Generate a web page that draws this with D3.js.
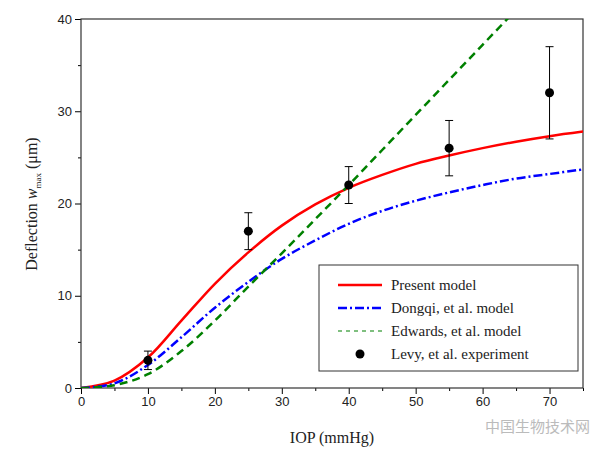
<!DOCTYPE html>
<html><head><meta charset="utf-8">
<script src="https://cdn.jsdelivr.net/npm/d3@7"></script>
<style>body{margin:0;background:#fff}text{font-family:"Liberation Serif",serif}</style>
</head><body><svg id="c" width="600" height="453"></svg>
<script>
var iop = [0, 5, 10, 15, 20, 25, 30, 35, 40, 45, 50, 55, 60, 65, 70, 75];
var present = [0, 0.8, 3.3, 7.3, 11.3, 14.7, 17.6, 19.9, 21.7, 23.1, 24.3, 25.2, 26, 26.7, 27.3, 27.8];
var dongqi = [0, 0.5, 2.5, 5.5, 8.7, 11.5, 14, 16, 17.8, 19.2, 20.3, 21.2, 22, 22.7, 23.2, 23.7];
var edwardsX = [0, 5, 10, 15, 20, 25, 30, 35, 40, 45, 50, 55, 60, 65];
var edwards = [0, 0.3, 1.5, 4, 7.3, 11, 14.6, 18.3, 22, 25.8, 29.6, 33.4, 37.2, 41];
var levyX = [10, 25, 40, 55, 70];
var levy = [3, 17, 22, 26, 32];
var levyErr = [1, 2, 2, 3, 5];

var svg = d3.select("#c");
var x = d3.scaleLinear().domain([0, 75]).range([81, 583]);
var y = d3.scaleLinear().domain([0, 40]).range([388, 19]);

svg.append("clipPath").attr("id", "clip").append("rect")
    .attr("x", 81).attr("y", 19).attr("width", 502).attr("height", 369);

svg.append("g").attr("transform", "translate(0,388)")
    .call(d3.axisBottom(x).tickValues(d3.range(0, 80, 10)).tickSize(6).tickSizeOuter(0));
svg.append("g").attr("transform", "translate(0,388)")
    .call(d3.axisBottom(x).tickValues(d3.range(5, 80, 10)).tickSize(3).tickFormat(""));
svg.append("g").attr("transform", "translate(81,0)")
    .call(d3.axisLeft(y).tickValues(d3.range(0, 50, 10)).tickSize(6).tickSizeOuter(0));
svg.append("g").attr("transform", "translate(81,0)")
    .call(d3.axisLeft(y).tickValues(d3.range(5, 40, 10)).tickSize(3).tickFormat(""));
svg.selectAll(".domain").remove();
svg.selectAll(".tick text").style("font-family", "Liberation Sans, Arial").style("font-size", "13px").attr("fill", "#222");
svg.append("rect").attr("x", 81).attr("y", 19).attr("width", 502).attr("height", 369)
    .attr("fill", "none").attr("stroke", "#333").attr("stroke-width", 1.2);

var line = d3.line().curve(d3.curveCatmullRom);
var plot = svg.append("g").attr("clip-path", "url(#clip)");
plot.append("path").attr("d", line(iop.map(function (d, i) { return [x(d), y(present[i])]; })))
    .attr("fill", "none").attr("stroke", "#ff0000").attr("stroke-width", 2.5);
plot.append("path").attr("d", line(iop.map(function (d, i) { return [x(d), y(dongqi[i])]; })))
    .attr("fill", "none").attr("stroke", "#0000ff").attr("stroke-width", 2.5).attr("stroke-dasharray", "9,3,2,3");
plot.append("path").attr("d", line(edwardsX.map(function (d, i) { return [x(d), y(edwards[i])]; })))
    .attr("fill", "none").attr("stroke", "#008000").attr("stroke-width", 2.5).attr("stroke-dasharray", "8,5");

levyX.forEach(function (d, i) {
    var g = svg.append("g").attr("stroke", "#000").attr("stroke-width", 1);
    g.append("line").attr("x1", x(d)).attr("x2", x(d)).attr("y1", y(levy[i] - levyErr[i])).attr("y2", y(levy[i] + levyErr[i]));
    [-1, 1].forEach(function (s) {
        g.append("line").attr("x1", x(d) - 4).attr("x2", x(d) + 4)
            .attr("y1", y(levy[i] + s * levyErr[i])).attr("y2", y(levy[i] + s * levyErr[i]));
    });
    svg.append("circle").attr("cx", x(d)).attr("cy", y(levy[i])).attr("r", 4.5).attr("fill", "#000");
});

// legend
var lg = svg.append("g").attr("transform", "translate(319,265)");
lg.append("rect").attr("width", 259).attr("height", 106).attr("fill", "#fff").attr("stroke", "#333");
var items = [
    { t: "Present model", c: "#ff0000", d: null },
    { t: "Dongqi, et al. model", c: "#0000ff", d: "9,3,2,3" },
    { t: "Edwards, et al. model", c: "#008000", d: "4,4" },
    { t: "Levy, et al. experiment", c: "#000", dot: true }
];
items.forEach(function (it, i) {
    var yy = 20 + i * 23;
    if (it.dot) {
        lg.append("circle").attr("cx", 41).attr("cy", yy).attr("r", 4.5).attr("fill", "#000");
    } else {
        lg.append("line").attr("x1", 19).attr("x2", 63).attr("y1", yy).attr("y2", yy)
            .attr("stroke", it.c).attr("stroke-width", it.d === "4,4" ? 1.2 : 2.5).attr("stroke-dasharray", it.d);
    }
    lg.append("text").attr("x", 72).attr("y", yy + 5).attr("font-size", "15px").attr("fill", "#222").text(it.t);
});

svg.append("text").attr("x", 332).attr("y", 443).attr("text-anchor", "middle").attr("font-size", "16px").attr("fill", "#222").text("IOP (mmHg)");
var yl = svg.append("text").attr("transform", "translate(37,204) rotate(-90)").attr("text-anchor", "middle").attr("font-size", "16px").attr("fill", "#222");
yl.append("tspan").text("Deflection ");
yl.append("tspan").attr("font-style", "italic").text("w");
yl.append("tspan").attr("font-size", "9px").attr("dy", 4).text("max");
yl.append("tspan").attr("dy", -4).text(" (\u03bcm)");

svg.append("text").attr("x", 590).attr("y", 432).attr("text-anchor", "end").attr("font-size", "15px")
    .style("font-family", "Noto Sans CJK SC").attr("fill", "#bbb").text("中国生物技术网");
</script></body></html>
